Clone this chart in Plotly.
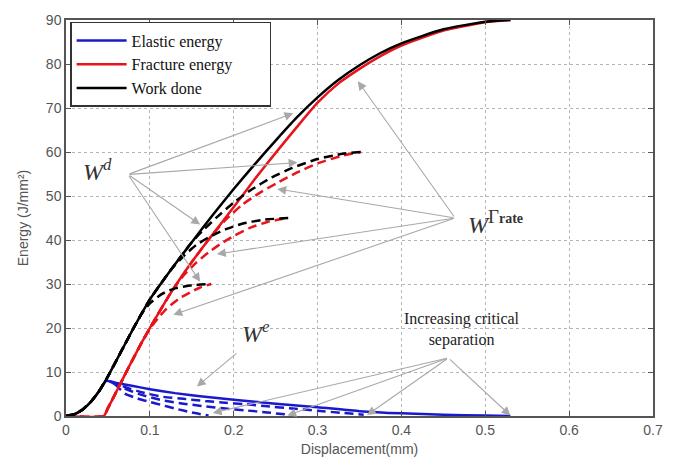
import plotly.graph_objects as go

# ---------------- data ----------------
# Work done (main case, largest critical separation)
work_x = [0, 0.01, 0.02, 0.03, 0.04, 0.05, 0.06, 0.07, 0.08, 0.09, 0.1, 0.125, 0.15,
          0.175, 0.2, 0.225, 0.25, 0.275, 0.3, 0.325, 0.35, 0.375, 0.4, 0.45, 0.5, 0.53]
work_y = [0, 0.4, 1.5, 3.3, 5.8, 9.0, 12.6, 16.2, 19.8, 23.2, 26.5, 33.2, 39.5,
          45.7, 51.6, 57.2, 62.6, 67.8, 72.4, 76.4, 79.7, 82.5, 84.7, 87.9, 89.6, 90]

# Fracture energy (main case)
frac_x = [0, 0.045, 0.05, 0.06, 0.07, 0.08, 0.09, 0.1, 0.125, 0.15, 0.175, 0.2, 0.225,
          0.25, 0.275, 0.3, 0.325, 0.35, 0.375, 0.4, 0.45, 0.5, 0.53]
frac_y = [0, 0, 1.8, 5.5, 9.3, 13.0, 16.6, 20.0, 28.0, 35.0, 41.3, 47.5, 53.8,
          59.8, 65.6, 71.2, 75.6, 78.9, 81.8, 84.2, 87.6, 89.5, 90]

# Elastic energy (main case)
elas_x = [0, 0.01, 0.02, 0.03, 0.04, 0.048, 0.06, 0.08, 0.1, 0.13, 0.16, 0.2, 0.25,
          0.3, 0.35, 0.4, 0.45, 0.5, 0.53]
elas_y = [0, 0.4, 1.5, 3.3, 5.8, 8.0, 7.5, 6.8, 6.1, 5.2, 4.5, 3.7, 2.8,
          2.0, 1.1, 0.6, 0.3, 0.1, 0]

# Smaller critical separations (dashed): the part from where they leave the main curve
# work done
work1_tail_x = [0.09, 0.1, 0.115, 0.13, 0.15, 0.173]
work1_tail_y = [23.2, 25.6, 27.8, 29.0, 29.7, 30]
work2_tail_x = [0.125, 0.14, 0.155, 0.17, 0.19, 0.21, 0.235, 0.265]
work2_tail_y = [33.2, 36.3, 38.8, 40.6, 42.4, 43.7, 44.6, 45]
work3_tail_x = [0.15, 0.165, 0.18, 0.2, 0.22, 0.245, 0.27, 0.3, 0.33, 0.352]
work3_tail_y = [39.5, 42.5, 45.2, 48.5, 51.3, 54.2, 56.4, 58.4, 59.6, 60]
# fracture energy
frac1_tail_x = [0.09, 0.1, 0.11, 0.12, 0.135, 0.15, 0.16, 0.173]
frac1_tail_y = [16.6, 19.8, 22.3, 24.4, 26.7, 28.3, 29.2, 30]
frac2_tail_x = [0.125, 0.14, 0.155, 0.17, 0.185, 0.2, 0.22, 0.24, 0.265]
frac2_tail_y = [28.0, 31.9, 34.8, 37.2, 39.2, 40.9, 42.8, 44.1, 45]
frac3_tail_x = [0.175, 0.19, 0.21, 0.23, 0.252, 0.275, 0.3, 0.33, 0.352]
frac3_tail_y = [41.3, 44.5, 48.0, 50.6, 53.0, 55.3, 57.4, 59.2, 60]
# elastic energy
elas1_x = [0.058, 0.065, 0.07, 0.085, 0.1, 0.114, 0.13, 0.15, 0.17]
elas1_y = [7.3, 6.0, 5.1, 4.0, 3.2, 2.5, 1.7, 0.8, 0.1]
elas2_x = [0.055, 0.07, 0.09, 0.114, 0.14, 0.166, 0.19, 0.213, 0.24, 0.265]
elas2_y = [7.6, 6.2, 4.8, 3.6, 2.8, 2.2, 1.7, 1.3, 0.8, 0.3]
elas3_x = [0.052, 0.07, 0.09, 0.114, 0.14, 0.166, 0.19, 0.213, 0.24, 0.27, 0.3, 0.33, 0.355]
elas3_y = [7.8, 6.6, 5.4, 4.4, 3.9, 3.4, 3.0, 2.7, 2.2, 1.7, 1.2, 0.7, 0.3]

legend_names = ["Elastic energy", "Fracture energy", "Work done"]
x_ticks = [0, 0.1, 0.2, 0.3, 0.4, 0.5, 0.6, 0.7]
x_ticklabels = ["0", "0.1", "0.2", "0.3", "0.4", "0.5", "0.6", "0.7"]
y_ticks = [0, 10, 20, 30, 40, 50, 60, 70, 80, 90]

# label anchors and arrows (tail -> head), data coordinates
wd_label = (0.037, 56.0)
wd_tail = (0.074, 54.9)
wd_heads = [(0.271, 68.8), (0.276, 57.6), (0.160, 43.5), (0.160, 30.5)]
wg_label = (0.477, 44.2)
wg_tail = (0.464, 45.0)
wg_heads = [(0.348, 76.1), (0.252, 51.6), (0.180, 36.8), (0.128, 23.0)]
we_label = (0.2075, 19.0)
we_tail = (0.205, 14.5)
we_heads = [(0.156, 6.7)]
inc_label = (0.472, 19.6)
inc_tail = (0.456, 13.2)
inc_heads = [(0.175, 0.7), (0.264, 0.1), (0.359, 0.2), (0.530, 0.1)]


def join(xs, ys, tx, ty):
    """main-curve points before the departure point, then the read tail points"""
    px = [x for x in xs if x < tx[0]]
    py = ys[:len(px)]
    return px + tx, py + ty

work1_x, work1_y = join(work_x, work_y, work1_tail_x, work1_tail_y)
work2_x, work2_y = join(work_x, work_y, work2_tail_x, work2_tail_y)
work3_x, work3_y = join(work_x, work_y, work3_tail_x, work3_tail_y)
frac1_x, frac1_y = join(frac_x, frac_y, frac1_tail_x, frac1_tail_y)
frac2_x, frac2_y = join(frac_x, frac_y, frac2_tail_x, frac2_tail_y)
frac3_x, frac3_y = join(frac_x, frac_y, frac3_tail_x, frac3_tail_y)

# ---------------- figure ----------------
BLUE = "#1a1acc"
RED = "#e8141a"
BLACK = "#000000"
LW = 2.5
DASH = "9px,5px"
PAD = "\u00a0" * 8   # widen the legend box like the reference

fig = go.Figure()

def add(x, y, color, dash=None, name=None, legend=False):
    fig.add_trace(go.Scatter(
        x=x, y=y, mode="lines", name=name, showlegend=legend,
        line=dict(color=color, width=LW, dash=dash or "solid", shape="spline", smoothing=0.5),
        hoverinfo="skip"))

add(elas_x, elas_y, BLUE, name=legend_names[0] + PAD, legend=True)
for xs, ys in [(elas1_x, elas1_y), (elas2_x, elas2_y), (elas3_x, elas3_y)]:
    add(xs, ys, BLUE, dash=DASH)
add(frac_x, frac_y, RED, name=legend_names[1] + PAD, legend=True)
for xs, ys in [(frac1_x, frac1_y), (frac2_x, frac2_y), (frac3_x, frac3_y)]:
    add(xs, ys, RED, dash=DASH)
add(work_x, work_y, BLACK, name=legend_names[2] + PAD, legend=True)
for xs, ys in [(work1_x, work1_y), (work2_x, work2_y), (work3_x, work3_y)]:
    add(xs, ys, BLACK, dash=DASH)

ARROW = "#a8a8a8"
annotations = []
for tail, heads in [(wd_tail, wd_heads), (wg_tail, wg_heads), (we_tail, we_heads), (inc_tail, inc_heads)]:
    for hx, hy in heads:
        annotations.append(dict(
            x=hx, y=hy, ax=tail[0], ay=tail[1], xref="x", yref="y", axref="x", ayref="y",
            text="", showarrow=True, arrowhead=2, arrowsize=1.6, arrowwidth=1.1,
            arrowcolor=ARROW))

SERIF = "Liberation Serif"
annotations.append(dict(x=wd_label[0], y=wd_label[1], xref="x", yref="y", showarrow=False,
                        text="<i>W</i><sup><i>d</i></sup>", xanchor="center", yanchor="middle",
                        font=dict(family=SERIF, size=24, color="#333333")))
annotations.append(dict(x=wg_label[0], y=wg_label[1], xref="x", yref="y", showarrow=False,
                        text=("<i>W</i><sup><span style='font-size:19px'>Γ</span>"
                              "<span style='font-size:14px'><b>rate</b></span></sup>"),
                        xanchor="left", yanchor="middle",
                        font=dict(family=SERIF, size=24, color="#333333")))
annotations.append(dict(x=we_label[0], y=we_label[1], xref="x", yref="y", showarrow=False,
                        text="<i>W</i><sup><i>e</i></sup>", xanchor="left", yanchor="middle",
                        font=dict(family=SERIF, size=24, color="#333333")))
annotations.append(dict(x=inc_label[0], y=inc_label[1], xref="x", yref="y", showarrow=False,
                        text="Increasing critical<br>separation", xanchor="center", yanchor="middle",
                        align="center",
                        font=dict(family=SERIF, size=16, color="#222222")))

axis_common = dict(
    showline=True, linecolor="#555555", linewidth=1.5, mirror="ticks",
    ticks="inside", ticklen=5, tickcolor="#555555", tickwidth=1,
    showgrid=True, gridcolor="#b5b5b5", gridwidth=1, griddash="dot",
    zeroline=False,
    tickfont=dict(family="Liberation Sans", size=14, color="#555555"),
)

fig.update_layout(
    width=678, height=467,
    margin=dict(l=66, r=25, t=15, b=49),
    paper_bgcolor="white", plot_bgcolor="white",
    xaxis=dict(range=[0, 0.7], tickvals=x_ticks, ticktext=x_ticklabels,
               title=dict(text="Displacement(mm)", standoff=8,
                          font=dict(family="Liberation Sans", size=14, color="#555555")),
               **axis_common),
    yaxis=dict(range=[0, 90], tickvals=y_ticks,
               title=dict(text="Energy (J/mm²)", standoff=14,
                          font=dict(family="Liberation Sans", size=14, color="#555555")),
               **axis_common),
    legend=dict(x=0.007, y=0.995, xanchor="left", yanchor="top",
                bgcolor="white", bordercolor="#333333", borderwidth=1.5,
                font=dict(family=SERIF, size=16, color="#111111"),
                itemwidth=50, tracegroupgap=0),
    annotations=annotations,
    showlegend=True,
)

fig.write_html("out.html")
